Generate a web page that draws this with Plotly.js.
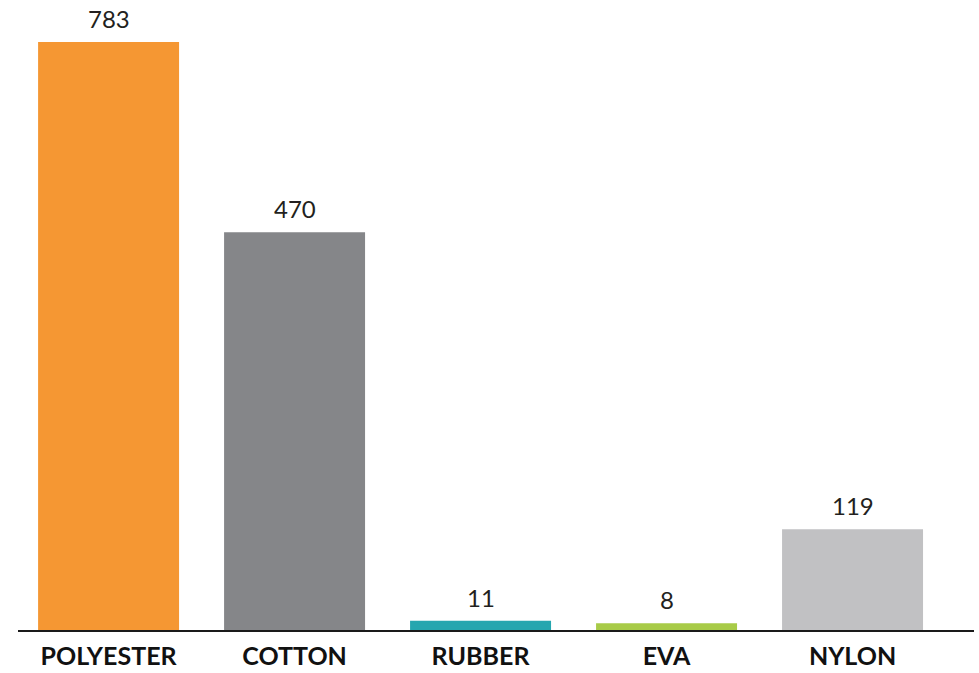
<!DOCTYPE html>
<html>
<head>
<meta charset="utf-8">
<script src="https://cdn.plot.ly/plotly-3.0.1.min.js"></script>
<style>html,body{margin:0;padding:0;background:#fff;}#chart{width:979px;height:673px;}</style>
</head>
<body>
<div id="chart"></div>
<script>
const categories = ["POLYESTER", "COTTON", "RUBBER", "EVA", "NYLON"];
const values = [783, 470, 11, 8, 119];
const colors = ["#F59733", "#858689", "#25A6AF", "#A8CB48", "#C1C1C3"];

const yMax = 695;

const trace = {
  type: "bar",
  x: categories,
  y: values,
  marker: { color: colors, line: { width: 0 } },
  hoverinfo: "x+y"
};

const annotations = categories.map((c, i) => ({
  x: c,
  y: Math.min(values[i], yMax),
  xref: "x",
  yref: "y",
  text: String(values[i]),
  showarrow: false,
  yanchor: "bottom",
  yshift: 7,
  font: { family: "Lato, 'Liberation Sans', Arial, sans-serif", size: 24, color: "#231F20" }
}));

const layout = {
  width: 979,
  height: 673,
  margin: { l: 18, r: 5, t: 42, b: 43, pad: 0 },
  paper_bgcolor: "#ffffff",
  plot_bgcolor: "#ffffff",
  showlegend: false,
  bargap: 0.242,
  xaxis: {
    type: "category",
    range: [-0.487, 4.653],
    showline: true,
    linecolor: "#1a1a1a",
    linewidth: 2,
    ticks: "",
    showgrid: false,
    zeroline: false,
    automargin: false,
    tickfont: { family: "Lato, 'Liberation Sans', Arial, sans-serif", size: 25, color: "#111111", weight: "bold" },
    ticklabelstandoff: 3
  },
  yaxis: {
    range: [0, yMax],
    visible: false,
    showgrid: false,
    zeroline: false
  },
  annotations: annotations
};

Plotly.newPlot("chart", [trace], layout, { displayModeBar: false, staticPlot: true });
</script>
</body>
</html>
